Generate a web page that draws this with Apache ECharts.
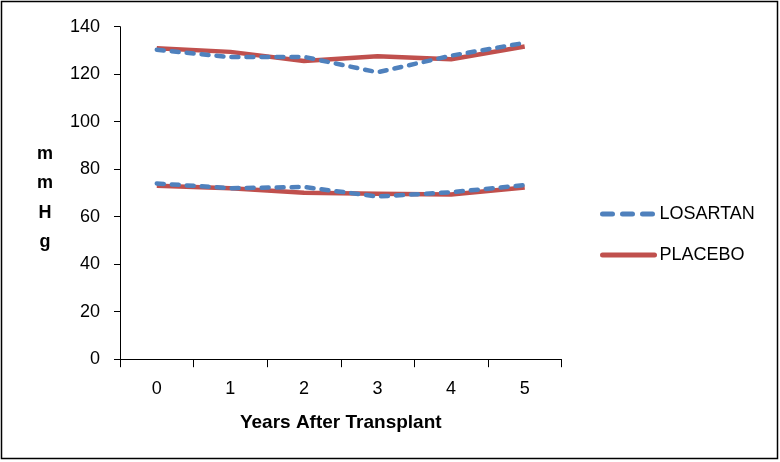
<!DOCTYPE html>
<html><head><meta charset="utf-8">
<script src="https://cdn.jsdelivr.net/npm/echarts@6/dist/echarts.min.js"></script>
<style>html,body{margin:0;padding:0;background:#fff}#c{width:780px;height:462px}</style>
</head><body><div id="c"></div>
<script>
var categories = ['0','1','2','3','4','5'];
var losartanSystolic = [130.3, 127.2, 127.3, 120.8, 127.8, 133.2];
var losartanDiastolic = [74.0, 72.0, 72.5, 68.5, 70.3, 73.3];
var placeboSystolic = [130.9, 129.4, 125.6, 127.6, 126.3, 131.7];
var placeboDiastolic = [73.0, 72.0, 70.1, 69.7, 69.3, 72.3];
var FONT = '"Liberation Sans", Arial, sans-serif';
var blue = '#4F81BD', red = '#C0504D';
var chart = echarts.init(document.getElementById('c'));
function s(name, data, color, dashed) {
  return {name: name, type: 'line', data: data, symbol: 'none', smooth: false,
    lineStyle: {color: color, width: 4.5, type: dashed ? [7, 8] : 'solid', cap: dashed ? 'round' : 'butt', join: 'round'},
    itemStyle: {color: color}, z: dashed ? 3 : 2, animation: false};
}
chart.setOption({
  animation: false,
  textStyle: {fontFamily: FONT},
  grid: {left: 120, right: 218.5, top: 26.7, bottom: 102.8},
  graphic: [{type: 'rect', shape: {x: 1.5, y: 1.5, width: 776, height: 457},
    style: {fill: null, stroke: '#000', lineWidth: 1.5}, silent: true}],
  legend: {orient: 'vertical', left: 595, top: 200, itemWidth: 52, itemHeight: 14, itemGap: 23,
    itemStyle: {opacity: 0},
    data: [
      {name: 'LOSARTAN', lineStyle: {type: [10, 10], width: 5, cap: 'round'}},
      {name: 'PLACEBO', lineStyle: {type: 'solid', width: 5, cap: 'round'}}
    ],
    textStyle: {fontFamily: FONT, fontSize: 18, color: '#000'}},
  xAxis: {type: 'category', data: categories, boundaryGap: true,
    name: 'Years After Transplant', nameLocation: 'middle', nameGap: 54,
    nameTextStyle: {fontFamily: FONT, fontWeight: 'bold', fontSize: 19, color: '#000'},
    axisLine: {lineStyle: {color: '#000', width: 1}},
    axisTick: {show: true, length: 8, lineStyle: {color: '#000'}},
    axisLabel: {color: '#000', fontSize: 18, margin: 21, fontFamily: FONT}},
  yAxis: {type: 'value', min: 0, max: 140, interval: 20,
    name: '{gap|}\nm\nm\nH\ng', nameLocation: 'middle', nameRotate: 0, nameGap: 75,
    nameTextStyle: {fontFamily: FONT, fontWeight: 'bold', fontSize: 18, color: '#000', lineHeight: 29.5, align: 'center',
      rich: {gap: {lineHeight: 10, height: 10, fontSize: 1}}},
    axisLine: {show: true, lineStyle: {color: '#000', width: 1}},
    axisTick: {show: true, length: 6, lineStyle: {color: '#000'}},
    splitLine: {show: false},
    axisLabel: {color: '#000', fontSize: 18, margin: 20, fontFamily: FONT}},
  series: [
    s('LOSARTAN', losartanSystolic, blue, true),
    s('LOSARTAN', losartanDiastolic, blue, true),
    s('PLACEBO', placeboSystolic, red, false),
    s('PLACEBO', placeboDiastolic, red, false)
  ]
});
</script></body></html>
